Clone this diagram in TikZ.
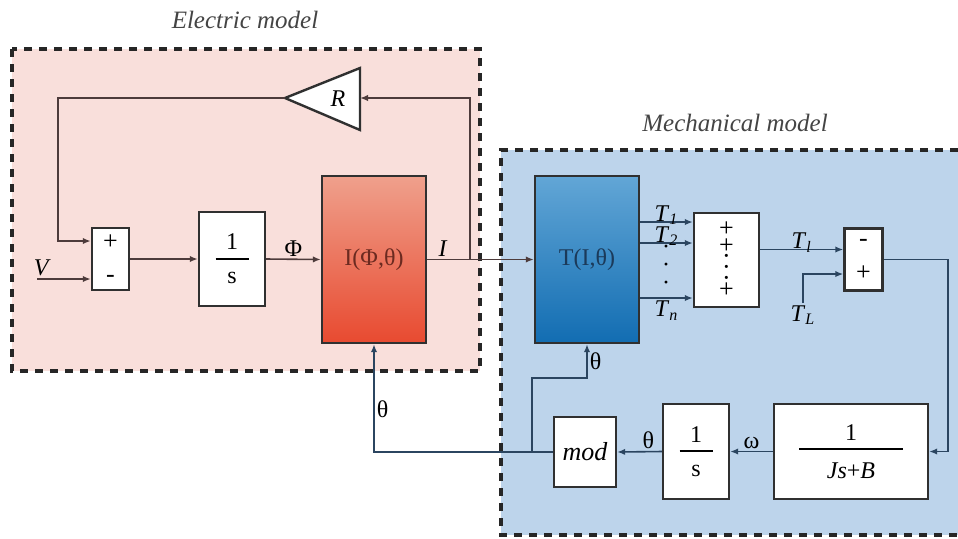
\documentclass[tikz,border=0pt]{standalone}
\usepackage{fontspec}
\setmainfont{Liberation Serif}
\usetikzlibrary{arrows.meta}

\definecolor{pinkbg}{HTML}{F9DFDB}
\definecolor{bluebg}{HTML}{BDD4EB}
\definecolor{redtop}{HTML}{EFA08C}
\definecolor{redbot}{HTML}{E84A30}
\definecolor{redtxt}{HTML}{6B2A20}
\definecolor{bluetop}{HTML}{62A6D6}
\definecolor{bluebot}{HTML}{126DB2}
\definecolor{bluetxt}{HTML}{1B3A5A}
\definecolor{lineE}{HTML}{4D3B3B}
\definecolor{lineM}{HTML}{2B4560}
\definecolor{blkline}{HTML}{303030}
\definecolor{ttl}{HTML}{444444}

% fraction inside a block
\newcommand{\blkfrac}[3]{\vbox{\hbox to #3{\hfil#1\hfil}\kern4pt\hrule height 0.9pt\kern6.5pt\hbox to #3{\hfil#2\hfil}}}

\begin{document}
\begin{tikzpicture}[x=0.5pt, y=-0.5pt,
  every node/.style={font=\fontsize{12}{14}\selectfont},
  blk/.style={draw=blkline, line width=1.2pt, fill=white, inner sep=0pt},
  zone/.style={draw=black!85, line width=2pt, dash pattern=on 4pt off 3.5pt},
  wireE/.style={draw=lineE, line width=0.8pt},
  wireM/.style={draw=lineM, line width=0.8pt},
  sig/.style={-{Latex[length=4pt,width=3.2pt]}},
  lbl/.style={inner sep=1pt},
  ttlfont/.style={font=\itshape\fontsize{12.5}{14}\selectfont, text=ttl}]
  \useasboundingbox (0,0) rectangle (958,538);

  % Zones
  \draw[zone, fill=pinkbg] (12,49) rectangle (480,371);
  \fill[bluebg] (501,150) rectangle (958,535);
  \draw[zone] (958,150) -- (501,150) -- (501,535) -- (958,535);
  \node[ttlfont] (ttlE) at (245,20) {Electric model};
  \node[ttlfont] (ttlM) at (735,123) {Mechanical model};

  % Electric blocks
  \node[blk, minimum width=18.5pt, minimum height=31pt, align=center,
    font=\fontsize{13}{16.5}\selectfont] (sumV) at (110.5,259) {+\\-};
  \node[blk, minimum width=33pt, minimum height=47pt] (intPhi) at (232,259)
    {\blkfrac{1}{s}{16.5pt}};
  \node[draw=blkline, line width=1.2pt, top color=redtop, bottom color=redbot,
    minimum width=52pt, minimum height=83.5pt, text=redtxt] (curblk) at (374,259.5) {I(Φ,θ)};
  \draw[blk] (285,98) -- (360,68) -- (360,130) -- cycle;
  \node (gainR) at (338,99) {\textit{R}};
  \coordinate (gainin) at (360,98);
  \coordinate (gainout) at (285,98);

  % Mechanical blocks
  \node[draw=blkline, line width=1.2pt, top color=bluetop, bottom color=bluebot,
    minimum width=52pt, minimum height=83.5pt, text=bluetxt] (torblk) at (587,259.5) {T(I,θ)};
  \node[blk, minimum width=32.5pt, minimum height=47pt, align=center,
    font=\fontsize{13}{8.5}\selectfont] (sumT) at (726.5,260)
    {+\\+\\[-3pt]·\\[-3pt]·\\[-3pt]·\\[-3pt]+};
  \node[align=center, inner sep=0pt, font=\fontsize{12}{9}\selectfont] (tdots) at (666,268) {·\\·\\·};
  \node[blk, minimum width=19pt, minimum height=31pt, align=center,
    font=\fontsize{13}{17}\selectfont] (sumL) at (863.5,259.5) {-\\+};
  \node[blk, minimum width=31pt, minimum height=35pt,
    font=\itshape\fontsize{13}{15}\selectfont] (modblk) at (585,452) {mod};
  \node[blk, minimum width=33pt, minimum height=47.5pt] (intTh) at (696,451.5)
    {\blkfrac{1}{s}{16.5pt}};
  \node[blk, minimum width=77pt, minimum height=47.5pt] (mechtf) at (851,451.5)
    {\blkfrac{1}{\textit{Js}+\textit{B}}{52pt}};

  % Electric signals
  \coordinate (vin) at (37,279);
  \draw[wireE, sig] (vin) -- node[lbl, above, pos=0.1] (vlab) {\textit{V}} (vin -| sumV.west);
  \draw[wireE, sig] (sumV.east) -- (intPhi.west);
  \draw[wireE, sig] (intPhi.east) -- node[lbl, above] (philab) {Φ} (curblk.west);
  \draw[wireE, sig] (curblk.east) -- node[lbl, above, pos=0.15] (ilab) {\textit{I}} (torblk.west);
  \coordinate (ibr) at (470,259.5);
  \draw[wireE, sig] (ibr) |- (gainin);
  \coordinate (fbL) at (58,241);
  \draw[wireE, sig] (gainout) -| (fbL) -- (fbL -| sumV.west);

  % Torque signals
  \foreach \dy/\nm/\tx/\anc/\sh in {18.75/t1/1/base/0.5pt, 8.25/t2/2/base/0.5pt, -19.25/tn/n/north/-1pt}
    \draw[wireM, sig] ([yshift=\dy pt]torblk.east) coordinate (\nm)
      -- node[inner sep=0pt, anchor=\anc, yshift=\sh] (\nm lab) {\textit{T}\textsubscript{\textit{\tx}}}
      (\nm -| sumT.west);
  \draw[wireM, sig] ([yshift=5.25pt]sumT.east) coordinate (tsum)
    -- node[inner sep=0pt, anchor=base, yshift=0.5pt] (tllab) {\textit{T}\textsubscript{\textit{l}}}
    (tsum -| sumL.west);
  \coordinate (tlin) at (803,303);
  \draw[wireM, sig] (tlin) |- ([yshift=-7.25pt]sumL.west);
  \node[lbl, anchor=north] (tLlab) at (tlin) {\textit{T}\textsubscript{\textit{L}}};

  % Speed and position feedback
  \coordinate (rtop) at (948,259.5);
  \draw[wireM, sig] (sumL.east) -- (rtop) |- (mechtf.east);
  \draw[wireM, sig] (mechtf.west) -- node[lbl, above] (wlab) {ω} (intTh.east);
  \draw[wireM, sig] (intTh.west) -- node[lbl, above, pos=0.3] (thlab) {θ} (modblk.east);
  \draw[wireM, sig] (modblk.west) -| node[lbl, right, pos=0.7] (thlabA) {θ} (curblk.south);
  \coordinate (thB) at (532,452);
  \coordinate (thK) at (532,378);
  \draw[wireM, sig] (thB) -- (thK) -| node[lbl, right, pos=0.75] (thlabB) {θ} (torblk.south);
\end{tikzpicture}
\end{document}
